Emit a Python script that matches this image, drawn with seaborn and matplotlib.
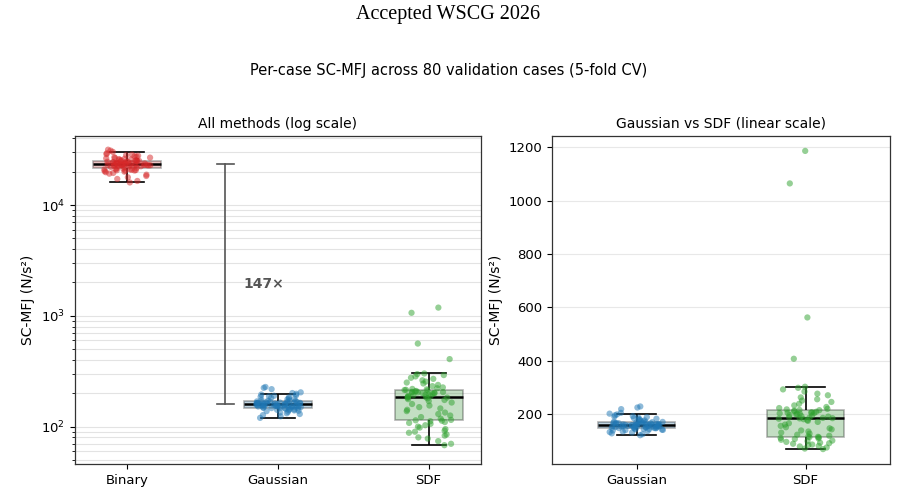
import numpy as np
import pandas as pd
import matplotlib
matplotlib.use("Agg")
import matplotlib.pyplot as plt
import seaborn as sns

# per-case SC-MFJ values (80 cases per method)
binary = [16000, 16500, 17200, 17800, 18300, 18800, 19200, 19500, 19800, 20000,
          20200, 20400, 20500, 20600, 20700, 20800, 20900, 21000, 21100, 21300,
          21500, 21700, 21900, 22100, 22300, 22400, 22500, 22600, 22700, 22800,
          22850, 22900, 22950, 23000, 23050, 23100, 23150, 23200, 23250, 23280,
          23320, 23500, 23550, 23600, 23700, 23800, 23900, 24000, 24100, 24200,
          24300, 24400, 24500, 24600, 24700, 24800, 24900, 25000, 25100, 25200,
          25300, 25400, 25600, 25800, 26000, 26200, 26400, 26600, 26800, 27000,
          27300, 27600, 27900, 28200, 28500, 28800, 29300, 30200, 31000, 31600]
gaussian = [120, 124, 127, 130, 132, 134, 136, 138, 139, 140,
            141, 142, 143, 144, 145, 146, 147, 147, 148, 148,
            149, 149, 150, 150, 151, 151, 152, 152, 153, 153,
            154, 154, 155, 155, 156, 156, 157, 157, 158, 158,
            159, 159, 160, 160, 161, 161, 162, 162, 163, 163,
            164, 164, 165, 165, 166, 166, 167, 167, 168, 169,
            170, 171, 172, 174, 176, 178, 180, 182, 184, 186,
            188, 190, 192, 195, 198, 201, 204, 218, 224, 228]
sdf = [68, 70, 74, 78, 80, 83, 85, 88, 90, 92,
       95, 98, 100, 103, 106, 108, 110, 112, 113, 114,
       115, 118, 122, 126, 130, 134, 138, 142, 146, 150,
       155, 160, 165, 170, 174, 177, 180, 182, 183, 184,
       185, 186, 188, 190, 192, 194, 196, 198, 200, 201,
       202, 203, 204, 205, 206, 208, 210, 212, 214, 215,
       217, 219, 222, 226, 232, 238, 245, 250, 255, 262,
       270, 276, 284, 292, 298, 302, 407, 562, 1065, 1187]

methods = ["Binary", "Gaussian", "SDF"]
colors = {"Binary": "#d62728", "Gaussian": "#1f77b4", "SDF": "#2ca02c"}

df = pd.DataFrame({
    "method": ["Binary"] * len(binary) + ["Gaussian"] * len(gaussian) + ["SDF"] * len(sdf),
    "value": binary + gaussian + sdf,
})
df_gs = df[df["method"] != "Binary"]

np.random.seed(3)
plt.rcParams["font.family"] = ["DejaVu Sans"]

fig = plt.figure(figsize=(8.97, 5.0), dpi=100)
ax1 = fig.add_axes([0.0836, 0.072, 0.4526, 0.656])
ax2 = fig.add_axes([0.6154, 0.072, 0.3768, 0.656])


def draw(ax, data, order):
    sns.boxplot(data=data, x="method", y="value", hue="method", order=order,
                palette=colors, width=0.45, showfliers=False, linecolor="black",
                linewidth=1.2, boxprops=dict(alpha=0.3),
                medianprops=dict(linewidth=1.8), legend=False, ax=ax)
    for p in ax.patches:
        p.set_edgecolor((0, 0, 0, 0.35))
    sns.stripplot(data=data, x="method", y="value", hue="method", order=order,
                  palette=colors, jitter=0.16, size=4.5, alpha=0.5, linewidth=0,
                  legend=False, ax=ax)


# left: all methods, box stats in linear space then log axis
draw(ax1, df, methods)
ax1.set_yscale("log")
ax1.set_ylim(46, 42000)
ax1.grid(True, which="both", axis="y", color="#e3e3e3", linewidth=0.8)
ax1.set_axisbelow(True)
ax1.set_title("All methods (log scale)", fontsize=10)
ax1.set_xlabel("")
ax1.set_ylabel("SC-MFJ (N/s²)", fontsize=10)

med_b = np.median(binary)
med_g = np.median(gaussian)
ax1.plot([0.65, 0.65], [med_g, med_b], color="#555555", lw=1.2)
ax1.plot([0.595, 0.705], [med_b, med_b], color="#555555", lw=1.2)
ax1.plot([0.595, 0.705], [med_g, med_g], color="#555555", lw=1.2)
ax1.text(0.77, np.sqrt(med_b * med_g), f"{med_b / med_g:.0f}×", fontsize=10,
         fontweight="bold", color="#555555", va="center", ha="left")

# right: Gaussian vs SDF, linear scale
draw(ax2, df_gs, ["Gaussian", "SDF"])
ax2.grid(True, axis="y", color="#e8e8e8", linewidth=0.8)
ax2.set_axisbelow(True)
ax2.set_title("Gaussian vs SDF (linear scale)", fontsize=10)
ax2.set_xlabel("")
ax2.set_ylabel("SC-MFJ (N/s²)", fontsize=10)

for ax in (ax1, ax2):
    ax.tick_params(labelsize=9.5)
    for sp in ax.spines.values():
        sp.set_color("#333333")
        sp.set_linewidth(0.9)

fig.suptitle("Per-case SC-MFJ across 80 validation cases (5-fold CV)", y=0.875, fontsize=10.5)
fig.text(0.5, 0.972, "Accepted WSCG 2026", ha="center", va="center",
         fontsize=14.5, family="Liberation Serif")

fig.savefig("out.png", dpi=100)
